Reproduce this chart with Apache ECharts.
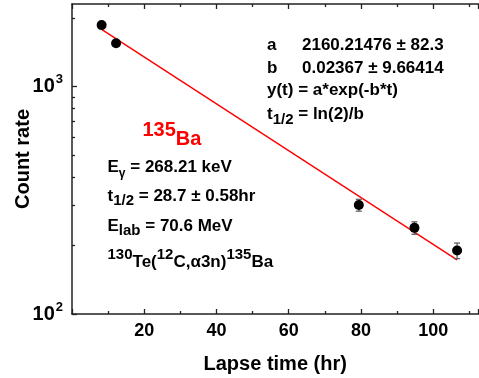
<!DOCTYPE html>
<html>
<head>
<meta charset="utf-8">
<script src="https://cdn.jsdelivr.net/npm/echarts@6/dist/echarts.min.js"></script>
<style>
  html, body { margin: 0; padding: 0; background: #fff; }
  #chart { width: 479px; height: 378px; }
</style>
</head>
<body>
<div id="chart"></div>
<script>
// measured decay points (lapse time in hr, count rate)
const lapseTimes = [8.2, 12.2, 79.4, 94.8, 106.6];
const countRates = [1858, 1545, 301, 239, 190];
const countErrors = [30, 30, 18, 15, 15];

// fitted curve end points
const fitLine = [[8.2, 1780], [106.6, 173]];

const xTickLabels = [20, 40, 60, 80, 100];
const yMajorTicks = [100, 1000];
const yMinorTicks = [200, 300, 400, 500, 600, 700, 800, 900, 2000];

const FONT = "'Liberation Sans', Arial, sans-serif";
const AXIS_COLOR = "#222";

const chart = echarts.init(document.getElementById("chart"), null, { renderer: "canvas" });

const points = lapseTimes.map((t, i) => [t, countRates[i]]);
const errorBars = lapseTimes.map((t, i) => [t, countRates[i] - countErrors[i], countRates[i] + countErrors[i]]);

const bold = (size, extra) => Object.assign({
  fontSize: size, fontWeight: "bold", fontFamily: FONT, fill: "#000",
}, extra || {});

// rich styles for the annotations
const rich = {
  n: bold(17),
  s: bold(15, { padding: [10, 0, 0, 0] }),
  p: bold(15, { padding: [0, 0, 14, 0] }),
  g: bold(12, { padding: [12, 0, 0, 0] }),
  lbl: bold(17, { width: 35 }),
  rn: bold(20, { fill: "#ff0000" }),
  rs: bold(20, { fill: "#ff0000", padding: [18, 0, 0, 0] }),
};

function note(x, y, text) {
  return {
    type: "text",
    x: x,
    y: y,
    z: 10,
    style: { text, rich, verticalAlign: "middle", align: "left" },
  };
}

const axisCommon = {
  min: 0,
  max: 112.5,
  interval: 20,
  axisLine: { show: true, onZero: false, lineStyle: { color: AXIS_COLOR, width: 1.5 } },
  axisTick: { show: true, inside: true, length: 5, lineStyle: { color: AXIS_COLOR, width: 1.3 } },
  minorTick: { show: true, splitNumber: 2, length: 3, lineStyle: { color: AXIS_COLOR, width: 1.3 } },
  splitLine: { show: false },
  minorSplitLine: { show: false },
};

chart.setOption({
  animation: false,
  backgroundColor: "#fff",
  grid: { left: 72, right: 0.6, top: 4, bottom: 64, outerBoundsMode: "none" },
  xAxis: [
    Object.assign({}, axisCommon, {
      type: "value",
      position: "bottom",
      name: "Lapse time (hr)",
      nameLocation: "middle",
      nameGap: 40,
      nameMoveOverlap: false,
      nameTextStyle: { fontSize: 20, fontWeight: "bold", fontFamily: FONT, color: "#000" },
      axisLabel: {
        fontSize: 18, fontWeight: "bold", fontFamily: FONT, color: "#000", margin: 8,
        formatter: (v) => (xTickLabels.indexOf(v) >= 0 ? String(v) : ""),
      },
    }),
    Object.assign({}, axisCommon, {
      type: "value",
      position: "top",
      axisLabel: { show: false },
    }),
  ],
  yAxis: [
    {
      type: "log",
      logBase: 10,
      min: 100,
      max: 2300,
      position: "left",
      name: "Count rate",
      nameLocation: "middle",
      nameGap: 39,
      nameMoveOverlap: false,
      nameTextStyle: { fontSize: 20, fontWeight: "bold", fontFamily: FONT, color: "#000" },
      axisLine: { show: true, lineStyle: { color: AXIS_COLOR, width: 1.5 } },
      axisTick: { show: true, inside: true, length: 5, customValues: yMajorTicks, lineStyle: { color: AXIS_COLOR, width: 1.3 } },
      axisLabel: {
        customValues: yMajorTicks,
        margin: 9,
        formatter: (v) => "{b|10}{e|" + Math.round(Math.log10(v)) + "}",
        rich: {
          b: { fontSize: 20, fontWeight: "bold", fontFamily: FONT, color: "#000" },
          e: { fontSize: 13, fontWeight: "bold", fontFamily: FONT, color: "#000", padding: [0, 0, 14, 1] },
        },
      },
      splitLine: { show: false },
    },
    {
      type: "log",
      logBase: 10,
      min: 100,
      max: 2300,
      position: "left",
      axisLine: { show: false },
      axisTick: { show: true, inside: true, length: 3, customValues: yMinorTicks, lineStyle: { color: AXIS_COLOR, width: 1.3 } },
      axisLabel: { show: false },
      splitLine: { show: false },
    },
  ],
  graphic: [
    note(267, 45.8, "{lbl|a}{n|2160.21476 ± 82.3}"),
    note(267, 68.1, "{lbl|b}{n|0.02367 ± 9.66414}"),
    note(267, 90, "{n|y(t) = a*exp(-b*t)}"),
    note(267, 114.8, "{n|t}{s|1/2}{n| = ln(2)/b}"),
    note(142.5, 130, "{rn|135}{rs|Ba}"),
    note(107.5, 167.4, "{n|E}{g|γ}{n| = 268.21 keV}"),
    note(107.5, 196, "{n|t}{s|1/2}{n| = 28.7 ± 0.58hr}"),
    note(107.5, 226, "{n|E}{s|lab}{n| = 70.6 MeV}"),
    note(107.5, 262, "{p|130}{n|Te(}{p|12}{n|C,α3n)}{p|135}{n|Ba}"),
  ],
  series: [
    {
      name: "fit",
      type: "line",
      data: fitLine,
      symbol: "none",
      lineStyle: { color: "#ff0000", width: 1.4 },
      z: 2,
    },
    {
      name: "errors",
      type: "custom",
      data: errorBars,
      z: 3,
      renderItem: (params, api) => {
        const x = api.value(0);
        const lo = api.coord([x, api.value(1)]);
        const hi = api.coord([x, api.value(2)]);
        const cap = 3;
        const st = { stroke: "#555", lineWidth: 1.2 };
        return {
          type: "group",
          children: [
            { type: "line", shape: { x1: lo[0], y1: lo[1], x2: hi[0], y2: hi[1] }, style: st },
            { type: "line", shape: { x1: lo[0] - cap, y1: lo[1], x2: lo[0] + cap, y2: lo[1] }, style: st },
            { type: "line", shape: { x1: hi[0] - cap, y1: hi[1], x2: hi[0] + cap, y2: hi[1] }, style: st },
          ],
        };
      },
    },
    {
      name: "data",
      type: "scatter",
      data: points,
      symbol: "circle",
      symbolSize: 10,
      itemStyle: { color: "#000", opacity: 1 },
      z: 4,
    },
  ],
});
</script>
</body>
</html>
